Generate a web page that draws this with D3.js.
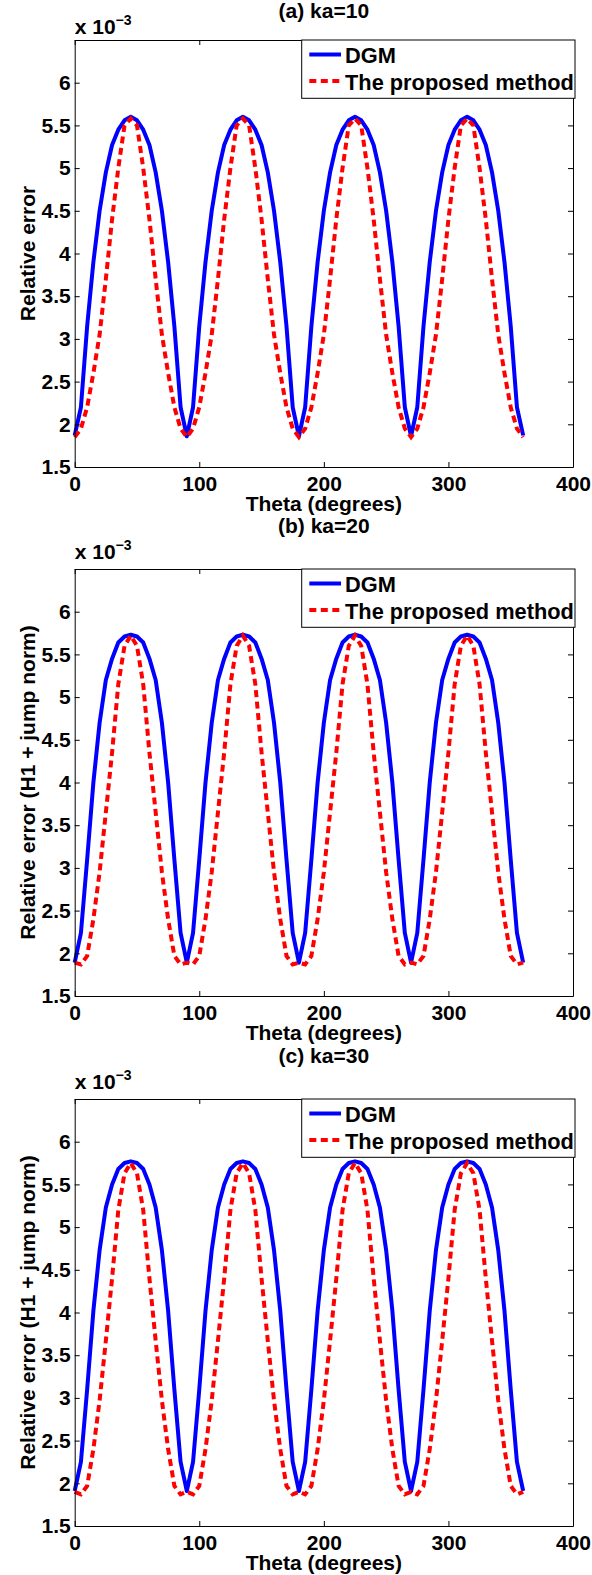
<!DOCTYPE html>
<html>
<head>
<meta charset="utf-8">
<script src="https://cdn.jsdelivr.net/npm/d3@7"></script>
<style>
  html, body { margin: 0; padding: 0; background: #fff; }
  svg { display: block; }
  text { font-family: "Liberation Sans", Arial, Helvetica, sans-serif; font-weight: bold; }
</style>
</head>
<body>
<script>
// ---------------- data ----------------
const theta = [0,5,10,15,20,25,30,35,40,45,50,55,60,65,70,75,80,85,
  90,95,100,105,110,115,120,125,130,135,140,145,150,155,160,165,170,175,
  180,185,190,195,200,205,210,215,220,225,230,235,240,245,250,255,260,265,
  270,275,280,285,290,295,300,305,310,315,320,325,330,335,340,345,350,355,360];

const dgmA = [1.87,2.20,3.15,3.90,4.50,4.95,5.27,5.45,5.56,5.60,5.56,5.45,5.27,4.95,4.50,3.90,3.15,2.20,
  1.86,2.20,3.15,3.90,4.50,4.95,5.27,5.45,5.56,5.60,5.56,5.45,5.27,4.95,4.50,3.90,3.15,2.20,
  1.86,2.20,3.15,3.90,4.50,4.95,5.27,5.45,5.56,5.60,5.56,5.45,5.27,4.95,4.50,3.90,3.15,2.20,
  1.86,2.20,3.15,3.90,4.50,4.95,5.27,5.45,5.56,5.60,5.56,5.45,5.27,4.95,4.50,3.90,3.15,2.20,1.87];
const propA = [1.85,1.95,2.20,2.60,3.05,3.70,4.40,5.00,5.50,5.58,5.50,5.00,4.40,3.70,3.05,2.60,2.20,1.95,
  1.85,1.95,2.20,2.60,3.05,3.70,4.40,5.00,5.50,5.58,5.50,5.00,4.40,3.70,3.05,2.60,2.20,1.95,
  1.85,1.95,2.20,2.60,3.05,3.70,4.40,5.00,5.50,5.58,5.50,5.00,4.40,3.70,3.05,2.60,2.20,1.95,
  1.85,1.95,2.20,2.60,3.05,3.70,4.40,5.00,5.50,5.58,5.50,5.00,4.40,3.70,3.05,2.60,2.20,1.95,1.85];

const dgmB = [1.89,2.24,3.10,4.00,4.70,5.20,5.45,5.64,5.71,5.73,5.71,5.64,5.45,5.20,4.70,4.00,3.10,2.24,
  1.89,2.24,3.10,4.00,4.70,5.20,5.45,5.64,5.71,5.73,5.71,5.64,5.45,5.20,4.70,4.00,3.10,2.24,
  1.89,2.24,3.10,4.00,4.70,5.20,5.45,5.64,5.71,5.73,5.71,5.64,5.45,5.20,4.70,4.00,3.10,2.24,
  1.89,2.24,3.10,4.00,4.70,5.20,5.45,5.64,5.71,5.73,5.71,5.64,5.45,5.20,4.70,4.00,3.10,2.24,1.89];
const propB = [1.89,1.87,1.97,2.40,2.95,3.65,4.35,5.15,5.60,5.72,5.60,5.15,4.35,3.65,2.95,2.40,1.97,1.87,
  1.89,1.87,1.97,2.40,2.95,3.65,4.35,5.15,5.60,5.72,5.60,5.15,4.35,3.65,2.95,2.40,1.97,1.87,
  1.89,1.87,1.97,2.40,2.95,3.65,4.35,5.15,5.60,5.72,5.60,5.15,4.35,3.65,2.95,2.40,1.97,1.87,
  1.89,1.87,1.97,2.40,2.95,3.65,4.35,5.15,5.60,5.72,5.60,5.15,4.35,3.65,2.95,2.40,1.97,1.87,1.89];

const dgmC = [1.91,2.25,3.10,4.02,4.73,5.23,5.50,5.68,5.75,5.77,5.75,5.68,5.50,5.23,4.73,4.02,3.10,2.25,
  1.91,2.25,3.10,4.02,4.73,5.23,5.50,5.68,5.75,5.77,5.75,5.68,5.50,5.23,4.73,4.02,3.10,2.25,
  1.91,2.25,3.10,4.02,4.73,5.23,5.50,5.68,5.75,5.77,5.75,5.68,5.50,5.23,4.73,4.02,3.10,2.25,
  1.91,2.25,3.10,4.02,4.73,5.23,5.50,5.68,5.75,5.77,5.75,5.68,5.50,5.23,4.73,4.02,3.10,2.25,1.91];
const propC = [1.90,1.87,1.97,2.40,2.97,3.67,4.40,5.20,5.63,5.75,5.63,5.20,4.40,3.67,2.97,2.40,1.97,1.87,
  1.90,1.87,1.97,2.40,2.97,3.67,4.40,5.20,5.63,5.75,5.63,5.20,4.40,3.67,2.97,2.40,1.97,1.87,
  1.90,1.87,1.97,2.40,2.97,3.67,4.40,5.20,5.63,5.75,5.63,5.20,4.40,3.67,2.97,2.40,1.97,1.87,
  1.90,1.87,1.97,2.40,2.97,3.67,4.40,5.20,5.63,5.75,5.63,5.20,4.40,3.67,2.97,2.40,1.97,1.87,1.90];

const titles = ["(a) ka=10", "(b) ka=20", "(c) ka=30"];
const yLabels = ["Relative error", "Relative error (H1 + jump norm)", "Relative error (H1 + jump norm)"];
const xLabel = "Theta (degrees)";
const seriesNames = ["DGM", "The proposed method"];
const xTicks = [0, 100, 200, 300, 400];
const xTickLabels = ["0", "100", "200", "300", "400"];
const yTicks = [1.5, 2, 2.5, 3, 3.5, 4, 4.5, 5, 5.5, 6, 6.5];
const yTickLabels = ["1.5", "2", "2.5", "3", "3.5", "4", "4.5", "5", "5.5", "6", ""];
const panels = [
  { dgm: dgmA, prop: propA },
  { dgm: dgmB, prop: propB },
  { dgm: dgmC, prop: propC }
];

// ---------------- layout ----------------
const W = 592, H = 1575;
const left = 74.7, right = 573;
const tops = [40, 569, 1099];
const titleOffsets = [22.5, 36, 36];
const expOffsets = [6.5, 10.5, 10.5];
const plotH = 427;
const fs = 21;
const legFs = 21.8;
const tickLen = 5;
const lw = 4;

const svg = d3.select("body").append("svg").attr("width", W).attr("height", H);
svg.append("rect").attr("width", W).attr("height", H).attr("fill", "#fff");

const x = d3.scaleLinear().domain([0, 400]).range([left, right]);

panels.forEach((p, i) => {
  const top = tops[i], bottom = top + plotH;
  const y = d3.scaleLinear().domain([1.5, 6.5]).range([bottom, top]);
  const g = svg.append("g");

  // lines
  const line = d3.line().x((d, k) => x(theta[k])).y(d => y(d));
  g.append("path").datum(p.dgm).attr("d", line)
    .attr("fill", "none").attr("stroke", "#0000ff").attr("stroke-width", lw)
    .attr("stroke-linejoin", "round");
  g.append("path").datum(p.prop).attr("d", line)
    .attr("fill", "none").attr("stroke", "#ff0000").attr("stroke-width", lw)
    .attr("stroke-dasharray", "7,4.5");

  // axes
  const xb = d3.axisBottom(x).tickValues(xTicks).tickFormat((d, k) => xTickLabels[k])
    .tickSize(-tickLen).tickSizeOuter(0).tickPadding(9);
  const xt = d3.axisTop(x).tickValues(xTicks).tickFormat("")
    .tickSize(-tickLen).tickSizeOuter(0);
  const yl = d3.axisLeft(y).tickValues(yTicks).tickFormat((d, k) => yTickLabels[k])
    .tickSize(-tickLen).tickSizeOuter(0).tickPadding(4);
  const yr = d3.axisRight(y).tickValues(yTicks).tickFormat("")
    .tickSize(-tickLen).tickSizeOuter(0);

  [
    [xb, `translate(0,${bottom})`],
    [xt, `translate(0,${top})`],
    [yl, `translate(${left},0)`],
    [yr, `translate(${right},0)`]
  ].forEach(([ax, tr]) => {
    const a = g.append("g").attr("transform", tr).call(ax);
    a.selectAll("path.domain").attr("stroke", "#000").attr("stroke-width", 1);
    a.selectAll(".tick line").attr("stroke", "#000").attr("stroke-width", 1);
    a.selectAll(".tick text").attr("fill", "#000")
      .style("font-size", fs + "px").style("font-weight", "bold")
      .style("font-family", '"Liberation Sans", Arial, sans-serif');
  });

  // exponent label
  const ex = g.append("text").attr("x", left).attr("y", top - expOffsets[i])
    .style("font-size", fs + "px");
  ex.append("tspan").text("x 10");
  ex.append("tspan").attr("dy", -9).style("font-size", "14px").text("\u22123");

  // title
  g.append("text").attr("x", (left + right) / 2).attr("y", top - titleOffsets[i])
    .attr("text-anchor", "middle").style("font-size", fs + "px").text(titles[i]);

  // x label
  g.append("text").attr("x", (left + right) / 2).attr("y", bottom + 44)
    .attr("text-anchor", "middle").style("font-size", fs + "px").text(xLabel);

  // y label
  g.append("text").attr("transform", `translate(35,${(top + bottom) / 2}) rotate(-90)`)
    .attr("text-anchor", "middle").style("font-size", fs + "px").text(yLabels[i]);

  // legend
  const lg = g.append("g");
  lg.append("rect").attr("x", 301.7).attr("y", top).attr("width", 273.3).attr("height", 58.3)
    .attr("fill", "#fff").attr("stroke", "#000").attr("stroke-width", 1);
  lg.append("line").attr("x1", 309.3).attr("x2", 341).attr("y1", top + 14.5).attr("y2", top + 14.5)
    .attr("stroke", "#0000ff").attr("stroke-width", lw);
  lg.append("line").attr("x1", 309.3).attr("x2", 341).attr("y1", top + 41).attr("y2", top + 41)
    .attr("stroke", "#ff0000").attr("stroke-width", lw).attr("stroke-dasharray", "7,4.5");
  lg.append("text").attr("x", 345).attr("y", top + 22.5).style("font-size", legFs + "px").text(seriesNames[0]);
  lg.append("text").attr("x", 345).attr("y", top + 49.5).style("font-size", legFs + "px").text(seriesNames[1]);
});
</script>
</body>
</html>
